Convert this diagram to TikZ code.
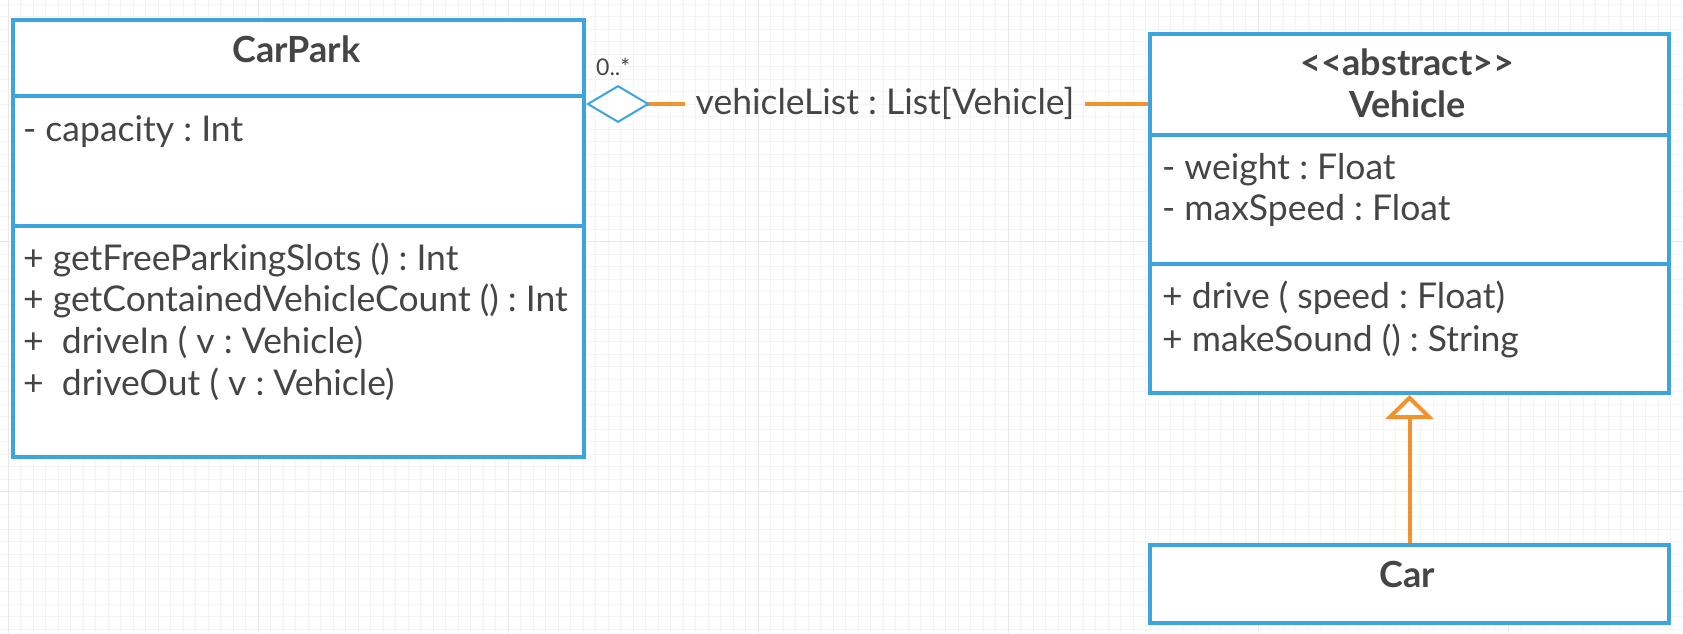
\documentclass[tikz,border=0pt]{standalone}
\usepackage{fontspec}
\setmainfont{Lato}
\usetikzlibrary{arrows.meta,positioning}

\definecolor{umlblue}{HTML}{3DA5DE}
\definecolor{umlorange}{HTML}{F2922F}
\definecolor{umltext}{HTML}{454545}
\definecolor{gridminor}{HTML}{F4F4F4}
\definecolor{gridmajor}{HTML}{E8E8E8}

\begin{document}
\frenchspacing
\begin{tikzpicture}[x=1pt,y=-1pt,
  every node/.style={text=umltext,font=\fontsize{35.5}{40}\selectfont},
  classbox/.style={draw=umlblue,line width=4pt,fill=white,inner sep=0pt,anchor=north west},
  sepline/.style={draw=umlblue,line width=4pt},
  member/.style={anchor=base west,inner sep=0pt},
  classname/.style={anchor=base,inner sep=0pt,font=\fontsize{36}{40}\selectfont\bfseries},
  link/.style={draw=umlorange,line width=4pt}]

% background with the faint grid
\useasboundingbox (0,0) rectangle (1683,633);
\fill[white] (0,0) rectangle (1683,633);
\foreach \gx in {8,20.5,...,1683} \draw[gridminor,line width=0.8pt] (\gx,0) -- (\gx,633);
\foreach \gy in {4.2,16.7,...,633} \draw[gridminor,line width=0.8pt] (0,\gy) -- (1683,\gy);
\foreach \gx in {8,258,...,1683} \draw[gridmajor,line width=0.8pt] (\gx,0) -- (\gx,633);
\foreach \gy in {241.7,491.7} \draw[gridmajor,line width=0.8pt] (0,\gy) -- (1683,\gy);

% class CarPark
\node[classbox,minimum width=571,minimum height=437] (carpark) at (11,18) {};
\draw[sepline] (11,96) -- (582,96);
\draw[sepline] (11,226) -- (582,226);
\node[classname] (carparkname) at (296.5,62) {CarPark};
\node[member] (capacity) at (23,141) {- capacity : Int};
\node[member] (freeslots) at (23,270) {+ getFreeParkingSlots () : Int};
\node[member] (vehiclecount) at (23,311) {+ getContainedVehicleCount () : Int};
\node[member] (drivein) at (23,353) {+\ \ driveIn ( v : Vehicle)};
\node[member] (driveout) at (23,395) {+\ \ driveOut ( v : Vehicle)};

% class Vehicle
\node[classbox,minimum width=519,minimum height=359] (vehicle) at (1148,32) {};
\draw[sepline] (1148,135) -- (1667,135);
\draw[sepline] (1148,264) -- (1667,264);
\node[classname] (stereotype) at (1407.5,75) {<{}<abstract>{}>};
\node[classname] (vehiclename) at (1407.5,117) {Vehicle};
\node[member] (weight) at (1162,179) {- weight : Float};
\node[member] (maxspeed) at (1162,220) {- maxSpeed : Float};
\node[member] (drive) at (1162,308) {+ drive ( speed : Float)};
\node[member] (makesound) at (1162,351) {+ makeSound () : String};

% class Car
\node[classbox,minimum width=519,minimum height=78] (car) at (1148,543) {};
\node[classname] (carname) at (1407.5,587) {Car};

% aggregation
\node[inner xsep=10pt,inner ysep=0pt,text height=28pt,text depth=8pt] (assoclabel) at (885,104) {vehicleList : List[Vehicle]};
\node[member,font=\fontsize{23}{26}\selectfont] (mult) at (596,75) {0..*};
\draw[link,{Diamond[open,length=64pt,width=38pt,line width=2pt,color=umlblue,fill=white]}-]
  (carpark.east |- assoclabel.west) -- (assoclabel.west);
\draw[link] (assoclabel.east) -- (vehicle.west |- assoclabel.east);

% generalisation
\draw[link,-{Triangle[open,length=24pt,width=48pt,fill=white]}] (car.north) -- (vehicle.south);
\end{tikzpicture}
\end{document}
